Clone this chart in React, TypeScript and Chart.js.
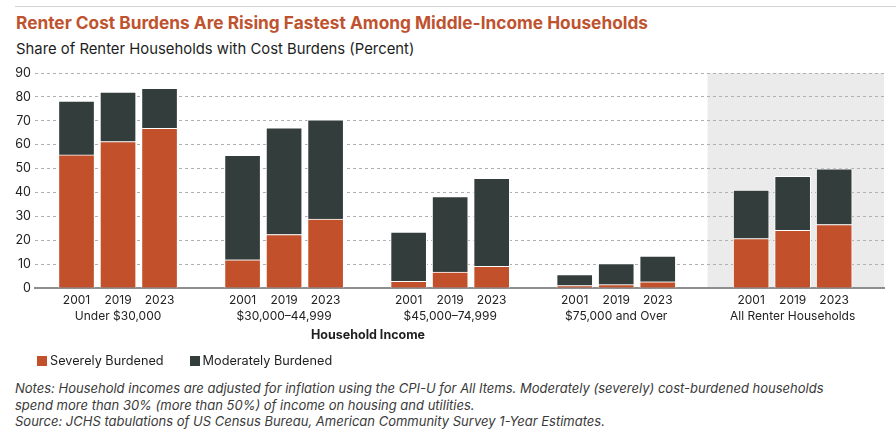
import React, { useEffect, useRef } from "react";
import { Chart, registerables } from "chart.js";

Chart.register(...registerables);

const TITLE = "Renter Cost Burdens Are Rising Fastest Among Middle-Income Households";
const SUBTITLE = "Share of Renter Households with Cost Burdens (Percent)";
const X_TITLE = "Household Income";
const YEARS = ["2001", "2019", "2023"];
const GROUPS = ["Under $30,000", "$30,000–44,999", "$45,000–74,999", "$75,000 and Over", "All Renter Households"];
const SERIES_NAMES = ["Severely Burdened", "Moderately Burdened"];
// values in order: group by group, years 2001, 2019, 2023
const SEVERE = [55.7, 61.3, 66.8, 11.8, 22.4, 28.9, 2.8, 6.7, 9.1, 1.0, 1.4, 2.6, 20.7, 24.1, 26.6];
const MODERATE = [22.5, 20.7, 16.8, 43.7, 44.6, 41.5, 20.6, 31.6, 36.8, 4.6, 8.8, 10.8, 20.3, 22.6, 23.3];
const Y_MIN = 0;
const Y_MAX = 90;
const Y_STEP = 10;
const NOTES = [
  "Notes: Household incomes are adjusted for inflation using the CPI-U for All Items. Moderately (severely) cost-burdened households",
  "spend more than 30% (more than 50%) of income on housing and utilities.",
  "Source: JCHS tabulations of US Census Bureau, American Community Survey 1-Year Estimates.",
];

const COLORS = ["#C1502B", "#333D3B"];
const TITLE_COLOR = "#C0532F";
const FONT = "Inter, 'Noto Sans', sans-serif";

// layout of the category axis (in slot units)
const SLOTS_PER_GROUP = 4;
const TOTAL_GROUP_EXTRA = 0.25; // the "All" group sits slightly further right
const BOX_START = 16.2;
const X_MAX = 20.45;

function xPos(i: number): number {
  const g = Math.floor(i / YEARS.length);
  const j = i % YEARS.length;
  return g * SLOTS_PER_GROUP + j + 1 + (g === GROUPS.length - 1 ? TOTAL_GROUP_EXTRA : 0);
}

const boxPlugin = {
  id: "allBox",
  beforeDraw(chart: any) {
    const { ctx, chartArea, scales } = chart;
    const x0 = scales.x.getPixelForValue(BOX_START);
    ctx.save();
    ctx.fillStyle = "#EBEBEB";
    ctx.fillRect(x0, chartArea.top, chartArea.right - x0, chartArea.bottom - chartArea.top);
    ctx.restore();
  },
};

export default function App() {
  const ref = useRef<HTMLCanvasElement | null>(null);

  useEffect(() => {
    document.body.style.margin = "0";
    Chart.defaults.font.family = FONT;
    const positions = SEVERE.map((_, i) => xPos(i));
    const chart = new Chart(ref.current as HTMLCanvasElement, {
      type: "bar",
      data: {
        datasets: [
          {
            label: SERIES_NAMES[0],
            data: SEVERE.map((v, i) => ({ x: positions[i], y: v })),
            backgroundColor: COLORS[0],
            borderColor: "#ffffff",
            borderWidth: 1,
            barThickness: 36,
          },
          {
            label: SERIES_NAMES[1],
            data: MODERATE.map((v, i) => ({ x: positions[i], y: v })),
            backgroundColor: COLORS[1],
            borderColor: "#ffffff",
            borderWidth: 1,
            barThickness: 36,
          },
        ],
      },
      options: {
        animation: false,
        responsive: false,
        maintainAspectRatio: false,
        devicePixelRatio: 1,
        layout: { padding: { left: 0, right: 12, top: 13, bottom: 0 } },
        plugins: { legend: { display: false }, tooltip: { enabled: false }, title: { display: false } },
        scales: {
          x: {
            type: "linear",
            stacked: true,
            min: 0,
            max: X_MAX,
            offset: false,
            grid: { display: false, drawTicks: false },
            border: { display: true, color: "#8E8E8E", width: 2 },
            afterBuildTicks: (scale: any) => {
              scale.ticks = positions.map((v) => ({ value: v }));
            },
            afterFit: (scale: any) => {
              scale.height = 42;
            },
            ticks: {
              autoSkip: false,
              maxRotation: 0,
              minRotation: 0,
              padding: 4,
              color: "#222",
              font: { size: 12, lineHeight: 1.33 },
              callback: (_v: any, index: number) => {
                const g = Math.floor(index / YEARS.length);
                const j = index % YEARS.length;
                return j === 1 ? [YEARS[j], GROUPS[g]] : YEARS[j];
              },
            },
          },
          y: {
            stacked: true,
            min: Y_MIN,
            max: Y_MAX,
            afterFit: (scale: any) => {
              scale.width = 35;
            },
            ticks: { stepSize: Y_STEP, color: "#222", font: { size: 12.5 }, padding: 4 },
            grid: {
              drawTicks: false,
              color: (c: any) => (c.tick && c.tick.value === 0 ? "rgba(0,0,0,0)" : "#B0B0B0"),
              lineWidth: 1,
            },
            border: { display: false, dash: [3, 3] },
          },
        },
      },
      plugins: [boxPlugin],
    });
    return () => chart.destroy();
  }, []);

  return (
    <div style={{ position: "relative", width: 896, height: 436, background: "#fff", fontFamily: FONT, overflow: "hidden" }}>
      <div style={{ position: "absolute", left: 15, right: 0, top: 6, height: 1, background: "#D4D4D4" }} />
      <div style={{ position: "absolute", left: 16, top: 12, fontSize: 17.3, fontWeight: 700, color: TITLE_COLOR, whiteSpace: "nowrap", lineHeight: "22px" }}>
        {TITLE}
      </div>
      <div style={{ position: "absolute", left: 16, top: 39, fontSize: 14.85, color: "#1E1E1E", whiteSpace: "nowrap", lineHeight: "20px" }}>
        {SUBTITLE}
      </div>
      <canvas ref={ref} width={896} height={270} style={{ position: "absolute", left: 0, top: 60, width: 896, height: 270 }} />
      <div style={{ position: "absolute", left: 368, top: 327, transform: "translateX(-50%)", fontSize: 12.5, fontWeight: 700, color: "#1E1E1E", whiteSpace: "nowrap", lineHeight: "16px" }}>
        {X_TITLE}
      </div>
      <div style={{ position: "absolute", left: 37, top: 353, display: "flex", alignItems: "center", fontSize: 12.7, color: "#1E1E1E", lineHeight: "16px" }}>
        {SERIES_NAMES.map((n, i) => (
          <div key={n} style={{ display: "flex", alignItems: "center", marginRight: 26 }}>
            <span style={{ display: "inline-block", width: 10, height: 10, background: COLORS[i], marginRight: 3 }} />
            <span>{n}</span>
          </div>
        ))}
      </div>
      <div style={{ position: "absolute", left: 15, top: 380, fontSize: 13, fontStyle: "italic", color: "#3A3A3A", lineHeight: "16.5px", whiteSpace: "nowrap" }}>
        {NOTES.map((t) => (
          <div key={t}>{t}</div>
        ))}
      </div>
    </div>
  );
}
